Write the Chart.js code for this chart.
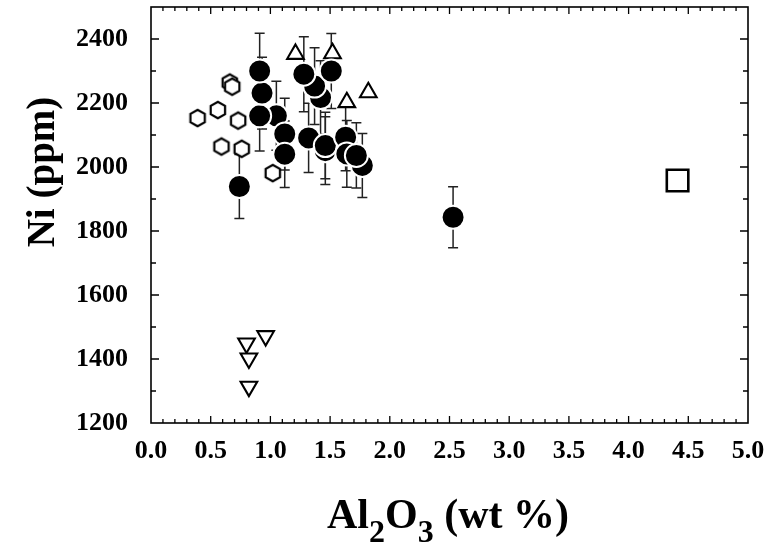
<!DOCTYPE html>
<html>
<head>
<meta charset="utf-8">
<script src="https://cdn.jsdelivr.net/npm/chart.js@4/dist/chart.umd.min.js"></script>
<style>
  html, body { margin: 0; padding: 0; background: #fff; }
  #wrap { width: 770px; height: 546px; }
</style>
</head>
<body>
<div id="wrap"><canvas id="c" width="770" height="546"></canvas></div>
<script>
// Filled circles with ±1σ Ni uncertainty
const circleAl  = [1.42, 1.37, 1.28, 1.51, 1.05, 0.91, 0.93, 0.91, 1.12, 1.12, 0.74,
                   1.32, 1.46, 1.46, 1.63, 1.64, 1.77, 1.72, 2.53];
const circleNi  = [2217, 2253, 2290, 2300, 2160, 2160, 2231, 2300, 2103, 2040, 1939,
                   2091, 2051, 2067, 2093, 2041, 2005, 2036, 1843];
const circleErr = [115, 120, 117, 117, 108, 110, 112, 118, 112, 104, 100,
                   108, 106, 104, 105, 104, 100, 102, 95];

// Open hexagons
const hexAl = [0.66, 0.68, 0.56, 0.39, 0.73, 0.59, 0.76, 1.02];
const hexNi = [2264, 2251, 2178, 2153, 2145, 2064, 2057, 1981];

// Open upward triangles
const upAl = [1.21, 1.52, 1.82, 1.64];
const upNi = [2353, 2355, 2233, 2202];

// Open downward triangles
const downAl = [0.80, 0.96, 0.82, 0.82];
const downNi = [1449, 1472, 1402, 1314];

// Open square
const squareAl = [4.41];
const squareNi = [1958];

// Axis ranges and tick spacing
const xRange = [0, 5];
const yRange = [1200, 2500];
const xMajor = 0.5, xMinor = 0.1;
const yMajor = 200, yMinor = 100;

const pts = (xs, ys) => xs.map((x, i) => ({ x: x, y: ys[i] }));

// Hexagon marker sprite
function hexSprite() {
  const c = document.createElement('canvas');
  c.width = 22; c.height = 22;
  const g = c.getContext('2d');
  const r = 8.3, cx = 11, cy = 11;
  g.beginPath();
  for (let k = 0; k < 6; k++) {
    const a = Math.PI / 2 + k * Math.PI / 3;
    const px = cx + r * Math.cos(a), py = cy + r * Math.sin(a);
    if (k === 0) g.moveTo(px, py); else g.lineTo(px, py);
  }
  g.closePath();
  g.fillStyle = '#fff';
  g.fill();
  g.lineWidth = 2.2;
  g.strokeStyle = '#000';
  g.stroke();
  return c;
}

const SERIF = '"Liberation Serif", "Times New Roman", serif';

// Vertical error bars with caps, drawn beneath the markers
const errorBars = {
  id: 'errorBars',
  beforeDatasetsDraw(chart) {
    const { ctx, scales: { x, y } } = chart;
    ctx.save();
    ctx.strokeStyle = '#222';
    ctx.lineWidth = 1.5;
    circleAl.forEach((a, i) => {
      const px = x.getPixelForValue(a);
      const top = y.getPixelForValue(circleNi[i] + circleErr[i]);
      const bot = y.getPixelForValue(circleNi[i] - circleErr[i]);
      ctx.beginPath();
      ctx.moveTo(px, top); ctx.lineTo(px, bot);
      ctx.moveTo(px - 5, top); ctx.lineTo(px + 5, top);
      ctx.moveTo(px - 5, bot); ctx.lineTo(px + 5, bot);
      ctx.stroke();
    });
    ctx.restore();
  }
};

// Frame and inward tick marks on all four sides
const frameTicks = {
  id: 'frameTicks',
  afterDatasetsDraw(chart) {
    const { ctx, chartArea: a, scales: { x, y } } = chart;
    ctx.save();
    ctx.strokeStyle = '#000';
    ctx.lineWidth = 1.3;
    ctx.beginPath();
    const nx = Math.round((xRange[1] - xRange[0]) / xMinor);
    for (let k = 1; k < nx; k++) {
      const v = xRange[0] + k * xMinor;
      const major = k % Math.round(xMajor / xMinor) === 0;
      const len = major ? 7 : 4;
      const px = x.getPixelForValue(v);
      ctx.moveTo(px, a.bottom); ctx.lineTo(px, a.bottom - len);
      ctx.moveTo(px, a.top); ctx.lineTo(px, a.top + len);
    }
    const ny = Math.round((yRange[1] - yRange[0]) / yMinor);
    for (let k = 1; k < ny; k++) {
      const v = yRange[0] + k * yMinor;
      const major = k % Math.round(yMajor / yMinor) === 0;
      const len = major ? 8 : 5;
      const py = y.getPixelForValue(v);
      ctx.moveTo(a.left, py); ctx.lineTo(a.left + len, py);
      ctx.moveTo(a.right, py); ctx.lineTo(a.right - len, py);
    }
    ctx.stroke();
    ctx.lineWidth = 1.6;
    ctx.strokeRect(a.left, a.top, a.right - a.left, a.bottom - a.top);
    ctx.restore();
  }
};

// Axis titles (x title carries subscripts)
const axisTitles = {
  id: 'axisTitles',
  afterDraw(chart) {
    const { ctx } = chart;
    ctx.save();
    ctx.fillStyle = '#000';
    ctx.textBaseline = 'alphabetic';

    // y title
    ctx.save();
    ctx.translate(54, 172);
    ctx.rotate(-Math.PI / 2);
    ctx.font = 'bold 39px ' + SERIF;
    ctx.textAlign = 'center';
    ctx.fillText('Ni (ppm)', 0, 0);
    ctx.restore();

    // x title
    const big = 'bold 42px ' + SERIF, small = 'bold 32px ' + SERIF;
    const parts = [
      { t: 'Al', f: big, dy: 0 },
      { t: '2', f: small, dy: 14 },
      { t: 'O', f: big, dy: 0 },
      { t: '3', f: small, dy: 14 },
      { t: ' (wt %)', f: big, dy: 0 }
    ];
    let total = 0;
    parts.forEach(p => { ctx.font = p.f; p.w = ctx.measureText(p.t).width; total += p.w; });
    let cx = 448 - total / 2;
    const base = 528;
    ctx.textAlign = 'left';
    parts.forEach(p => { ctx.font = p.f; ctx.fillText(p.t, cx, base + p.dy); cx += p.w; });
    ctx.restore();
  }
};

new Chart(document.getElementById('c'), {
  type: 'scatter',
  data: {
    datasets: [
      {
        label: 'circles',
        data: pts(circleAl, circleNi),
        pointStyle: 'circle',
        pointRadius: 11.5,
        pointBackgroundColor: '#000',
        pointBorderColor: '#fff',
        pointBorderWidth: 2
      },
      {
        label: 'square',
        data: pts(squareAl, squareNi),
        pointStyle: 'rect',
        pointRadius: 15.2,
        pointBackgroundColor: '#fff',
        pointBorderColor: '#000',
        pointBorderWidth: 2.6
      },
      {
        label: 'up triangles',
        data: pts(upAl, upNi),
        pointStyle: 'triangle',
        pointRadius: 9.6,
        pointBackgroundColor: '#fff',
        pointBorderColor: '#000',
        pointBorderWidth: 2.1
      },
      {
        label: 'down triangles',
        data: pts(downAl, downNi),
        pointStyle: 'triangle',
        pointRotation: 180,
        pointRadius: 9.6,
        pointBackgroundColor: '#fff',
        pointBorderColor: '#000',
        pointBorderWidth: 2.1
      },
      {
        label: 'hexagons',
        data: pts(hexAl, hexNi),
        pointStyle: hexSprite(),
        pointRadius: 9
      }
    ]
  },
  options: {
    responsive: false,
    animation: false,
    devicePixelRatio: 1,
    layout: { autoPadding: false, padding: { top: 7, right: 22, left: 0, bottom: 0 } },
    plugins: { legend: { display: false }, tooltip: { enabled: false } },
    events: [],
    scales: {
      x: {
        type: 'linear',
        min: xRange[0], max: xRange[1],
        grid: { display: false },
        border: { display: false },
        afterFit(s) { s.height = 123; s.paddingLeft = 0; s.paddingRight = 0; },
        ticks: {
          stepSize: xMajor,
          padding: 5,
          color: '#000',
          font: { family: SERIF, size: 26, weight: 'bold' },
          callback: v => v.toFixed(1),
          maxRotation: 0, autoSkip: false
        }
      },
      y: {
        type: 'linear',
        min: yRange[0], max: yRange[1],
        grid: { display: false },
        border: { display: false },
        afterFit(s) { s.width = 151; s.paddingTop = 0; s.paddingBottom = 0; },
        ticks: {
          stepSize: yMinor,
          padding: 15,
          color: '#000',
          font: { family: SERIF, size: 26, weight: 'bold' },
          callback: v => (v % yMajor === 0 ? String(v) : ''),
          autoSkip: false
        }
      }
    }
  },
  plugins: [errorBars, frameTicks, axisTitles]
});
</script>
</body>
</html>
